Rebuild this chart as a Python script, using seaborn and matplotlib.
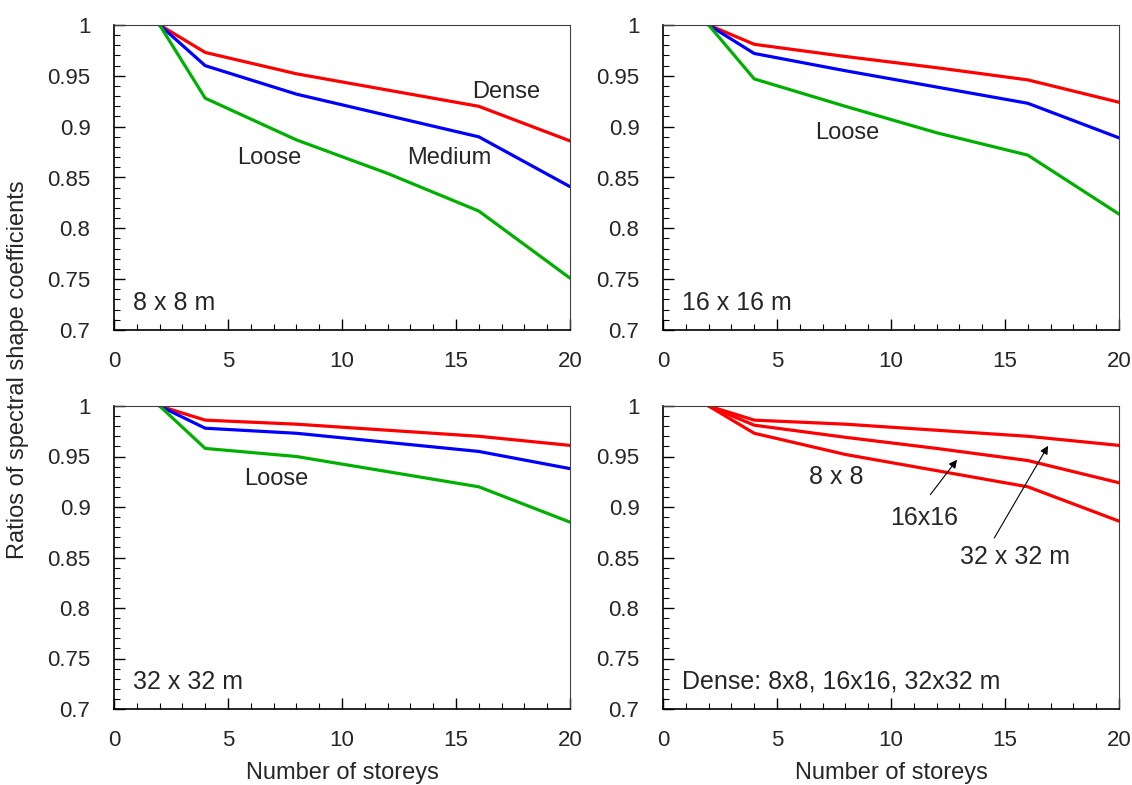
import matplotlib
matplotlib.use("Agg")
import matplotlib.pyplot as plt
from matplotlib.ticker import MultipleLocator
import seaborn as sns
import pandas as pd

sns.set_style("ticks")
plt.rcParams['font.family'] = ['Liberation Sans', 'DejaVu Sans']

storeys = [2, 4, 8, 12, 16, 20]

dense_8 = [1.0, 0.973, 0.952, 0.936, 0.920, 0.886]
medium_8 = [1.0, 0.960, 0.932, 0.911, 0.890, 0.841]
loose_8 = [1.0, 0.928, 0.887, 0.854, 0.817, 0.751]

dense_16 = [1.0, 0.981, 0.969, 0.958, 0.946, 0.924]
medium_16 = [1.0, 0.972, 0.955, 0.939, 0.923, 0.889]
loose_16 = [1.0, 0.947, 0.920, 0.894, 0.872, 0.814]

dense_32 = [1.0, 0.986, 0.982, 0.976, 0.970, 0.961]
medium_32 = [1.0, 0.978, 0.973, 0.964, 0.955, 0.938]
loose_32 = [1.0, 0.958, 0.950, 0.935, 0.920, 0.885]

densities = ["Dense", "Medium", "Loose"]
sizes = ["8 x 8 m", "16 x 16 m", "32 x 32 m"]
density_colors = {"Dense": "#ff0000", "Medium": "#0000ff", "Loose": "#00b000"}

series = {
    ("8 x 8 m", "Dense"): dense_8, ("8 x 8 m", "Medium"): medium_8, ("8 x 8 m", "Loose"): loose_8,
    ("16 x 16 m", "Dense"): dense_16, ("16 x 16 m", "Medium"): medium_16, ("16 x 16 m", "Loose"): loose_16,
    ("32 x 32 m", "Dense"): dense_32, ("32 x 32 m", "Medium"): medium_32, ("32 x 32 m", "Loose"): loose_32,
}
rows = []
for (sz, dn), vals in series.items():
    for x, v in zip(storeys, vals):
        rows.append({"size": sz, "density": dn, "storeys": x, "ratio": v})
df = pd.DataFrame(rows)

fig = plt.figure(figsize=(11.32, 7.85), dpi=100)
W, H = 1132, 785
def add_ax(l, t, r, b):
    return fig.add_axes([l / W, 1 - b / H, (r - l) / W, (b - t) / H])

ax1 = add_ax(114, 25, 570, 330)
ax2 = add_ax(663, 25, 1119, 330)
ax3 = add_ax(114, 406, 570, 709)
ax4 = add_ax(663, 406, 1119, 709)
axes = [ax1, ax2, ax3, ax4]

TFS = 16   # tick labels
FS = 17    # annotations / axis labels
FS2 = 18   # corner labels and panel-4 labels
for ax, sz in zip([ax1, ax2, ax3], sizes):
    sub = df[df["size"] == sz]
    sns.lineplot(data=sub, x="storeys", y="ratio", hue="density", hue_order=densities,
                 palette=density_colors, linewidth=2.3, ax=ax, legend=False, sort=False,
                 estimator=None)

sub4 = df[df["density"] == "Dense"]
sns.lineplot(data=sub4, x="storeys", y="ratio", units="size", estimator=None,
             color="#ff0000", linewidth=2.3, ax=ax4, legend=False, sort=False)

for ax in axes:
    ax.set_xlim(0, 20)
    ax.set_ylim(0.7, 1.0)
    ax.xaxis.set_major_locator(MultipleLocator(5))
    ax.xaxis.set_minor_locator(MultipleLocator(1))
    ax.yaxis.set_minor_locator(MultipleLocator(0.01))
    ax.set_yticks([0.7, 0.75, 0.8, 0.85, 0.9, 0.95, 1.0])
    ax.set_yticklabels(["0.7", "0.75", "0.8", "0.85", "0.9", "0.95", "1"])
    ax.tick_params(which="major", direction="in", length=8, width=1, labelsize=TFS, color="black")
    ax.tick_params(which="minor", direction="in", length=4, width=0.8, color="black")
    ax.tick_params(axis="x", which="major", pad=15)
    ax.tick_params(axis="y", which="major", pad=17)
    ax.set_xlabel("")
    ax.set_ylabel("")
    for s in ["left", "bottom"]:
        ax.spines[s].set_color("black")
        ax.spines[s].set_linewidth(1.2)
    for s in ["top", "right"]:
        ax.spines[s].set_color("#404040")
        ax.spines[s].set_linewidth(0.8)

ax1.text(17.2, 0.934, "Dense", fontsize=FS, ha="center", va="center")
ax1.text(14.7, 0.869, "Medium", fontsize=FS, ha="center", va="center")
ax1.text(6.8, 0.869, "Loose", fontsize=FS, ha="center", va="center")
ax2.text(8.1, 0.894, "Loose", fontsize=FS, ha="center", va="center")
ax3.text(7.1, 0.928, "Loose", fontsize=FS, ha="center", va="center")

for ax, lab in zip(axes, ["8 x 8 m", "16 x 16 m", "32 x 32 m", "Dense: 8x8, 16x16, 32x32 m"]):
    ax.text(0.85, 0.727, lab, fontsize=FS2, ha="left", va="center")

ax4.text(7.6, 0.930, "8 x 8", fontsize=FS2, ha="center", va="center")
ax4.text(11.45, 0.889, "16x16", fontsize=FS2, ha="center", va="center")
ax4.text(15.45, 0.850, "32 x 32 m", fontsize=FS2, ha="center", va="center")
ax4.annotate("", xy=(12.97, 0.949), xytext=(11.65, 0.910),
             arrowprops=dict(arrowstyle="-|>", color="black", lw=0.8, mutation_scale=12))
ax4.annotate("", xy=(16.95, 0.963), xytext=(14.47, 0.867),
             arrowprops=dict(arrowstyle="-|>", color="black", lw=0.8, mutation_scale=12))

fig.text(18 / W, 1 - 370 / H, "Ratios of spectral shape coefficients", rotation=90,
         fontsize=FS, ha="center", va="center")
fig.text(342 / W, 1 - 773 / H, "Number of storeys", fontsize=FS, ha="center", va="center")
fig.text(891 / W, 1 - 773 / H, "Number of storeys", fontsize=FS, ha="center", va="center")

fig.savefig("out.png", dpi=100)
